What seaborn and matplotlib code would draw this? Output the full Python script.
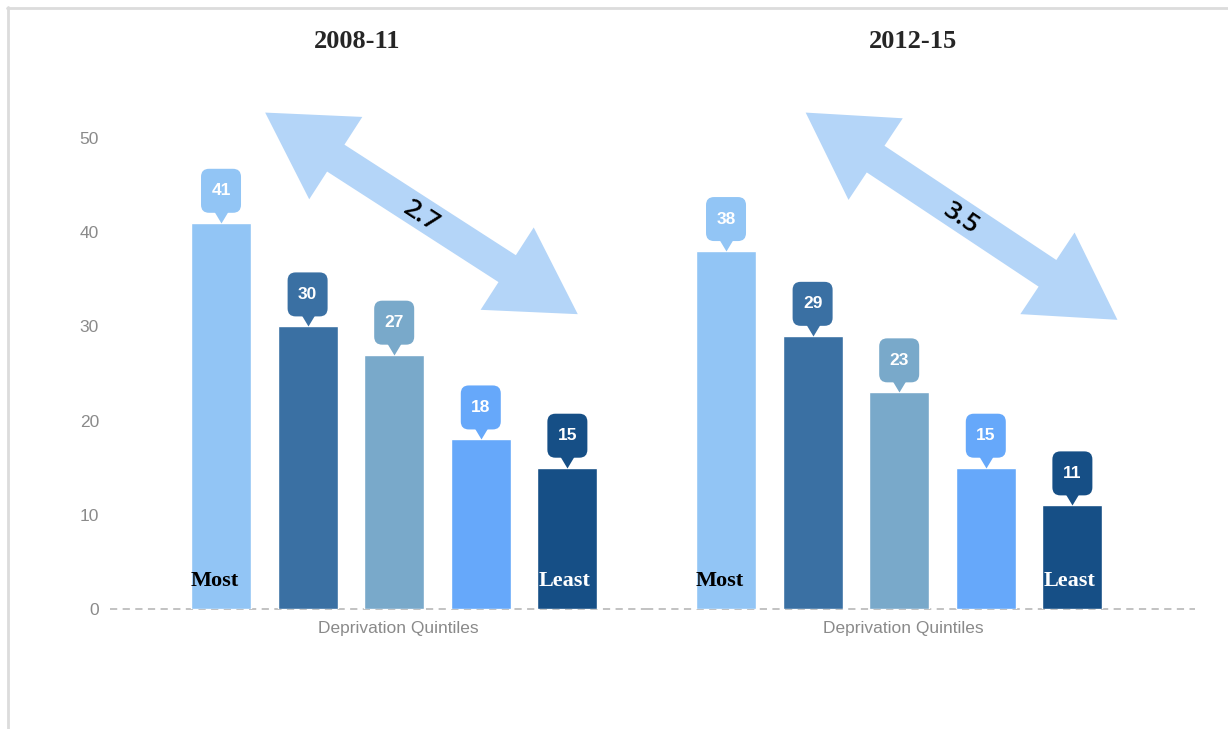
import numpy as np
import pandas as pd
import matplotlib.pyplot as plt
import matplotlib.transforms as mtransforms
import seaborn as sns
from matplotlib.patches import Polygon, FancyBboxPatch
from matplotlib.lines import Line2D

quintiles = ['Q1 Most', 'Q2', 'Q3', 'Q4', 'Q5 Least']
rates_0811 = [41, 30, 27, 18, 15]
rates_1215 = [38, 29, 23, 15, 11]
periods = ['2008-11', '2012-15']
ratios = ['2.7', '3.5']
end_labels = ['Most', 'Least']

bar_colors = ['#92c5f5', '#3a70a3', '#79a9ca', '#66a8fa', '#164f86']
arrow_color = '#b4d5f8'
grey = '#8a8a8a'

sns.set_theme(style='white')
plt.rcParams['font.family'] = ['Liberation Sans', 'DejaVu Sans']

W, H = 1228, 729
fig = plt.figure(figsize=(W / 100, H / 100), dpi=100)


def px_axes(left, right, top, bottom):
    return fig.add_axes([left / W, 1 - bottom / H, (right - left) / W, (bottom - top) / H])


ax1 = px_axes(110, 646, 81.5, 609)
ax2 = px_axes(646, 1195, 81.5, 609)
axes = [ax1, ax2]
xlims = [(-1.282, 4.908), (-0.924, 5.416)]
# arrow tips (upper-left, lower-right) in data units of each panel
arrow_tips = [((0.51, 52.7), (4.12, 31.3)), ((0.92, 52.7), (4.52, 30.7))]
title_x = [357, 913]

pointer = [(-0.6, 1.0), (0.6, 1.0), (0.0, 0.0)]

for i, (ax, vals) in enumerate(zip(axes, [rates_0811, rates_1215])):
    df = pd.DataFrame({'quintile': quintiles, 'rate': vals})
    sns.barplot(data=df, x='quintile', y='rate', hue='quintile', palette=bar_colors,
                saturation=1, width=0.693, legend=False, ax=ax)
    ax.set_xlim(*xlims[i])
    ax.set_ylim(0, 56)
    ax.set_xlabel('')
    ax.set_ylabel('')
    ax.set_xticks([])
    for s in ax.spines.values():
        s.set_visible(False)
    ax.patch.set_alpha(0)
    if i == 0:
        ax.set_yticks([0, 10, 20, 30, 40, 50])
        ax.tick_params(axis='y', length=0, pad=8, labelsize=12.5, labelcolor=grey)
    else:
        ax.set_yticks([])
    ax.axhline(0, color='#bdbdbd', lw=1.3, ls=(0, (4, 3)), clip_on=False, zorder=0)

    # callout labels: rounded box in pixel offsets above each bar top
    for j, v in enumerate(vals):
        ax.plot(j, v, marker=pointer, ms=20, color=bar_colors[j], mec='none',
                zorder=4, clip_on=False)
        at_bar = mtransforms.ScaledTranslation(j, v, ax.transData)
        box = FancyBboxPatch((-20, 10), 40, 44, boxstyle='round,pad=0,rounding_size=8',
                             fc=bar_colors[j], ec='none', transform=at_bar,
                             zorder=5, clip_on=False)
        ax.add_patch(box)
        ax.annotate(str(v), xy=(j, v), xytext=(0, 32), textcoords='offset pixels',
                    ha='center', va='center', color='white', fontsize=12.5,
                    weight='bold', zorder=6)

    ax.annotate(end_labels[0], xy=(0, 0), xytext=(-6, 28), textcoords='offset pixels',
                ha='center', va='center', fontsize=16, color='black',
                family=['Liberation Serif', 'DejaVu Serif'], weight='bold')
    ax.annotate(end_labels[1], xy=(4, 0), xytext=(-3, 28), textcoords='offset pixels',
                ha='center', va='center', fontsize=16, color='white',
                family=['Liberation Serif', 'DejaVu Serif'], weight='bold')
    ax.annotate('Deprivation Quintiles', xy=(2, 0), xytext=(4, -20),
                textcoords='offset pixels', ha='center', va='center',
                fontsize=12.5, color=grey)

    fig.text(title_x[i] / W, 1 - 42 / H, periods[i], ha='center', va='center',
             fontsize=19, weight='bold', family=['Liberation Serif', 'DejaVu Serif'])

    # double-headed arrow drawn in display space
    a = ax.transData.transform(arrow_tips[i][0])
    b = ax.transData.transform(arrow_tips[i][1])
    d = b - a
    u = d / np.hypot(*d)
    n = np.array([-u[1], u[0]])
    L, Hh, S = 84, 49, 16
    verts = [a, a + L * u + Hh * n, a + L * u + S * n, b - L * u + S * n,
             b - L * u + Hh * n, b, b - L * u - Hh * n, b - L * u - S * n,
             a + L * u - S * n, a + L * u - Hh * n]
    verts = fig.transFigure.inverted().transform(np.array(verts))
    fig.add_artist(Polygon(verts, closed=True, transform=fig.transFigure,
                           fc=arrow_color, ec='none', zorder=3))
    mid = fig.transFigure.inverted().transform((a + b) / 2 + np.array([0, -3]))
    ang = np.degrees(np.arctan2(d[1], d[0]))
    fig.text(mid[0], mid[1], ratios[i], ha='center', va='center', rotation=ang,
             rotation_mode='anchor', fontsize=19, color='black', zorder=4,
             weight='semibold', family=['Open Sans', 'DejaVu Sans'])

# light frame around the chart
fig.add_artist(Line2D([7 / W, 1], [1 - 7.5 / H, 1 - 7.5 / H], color='#dcdcdc', lw=2,
                      transform=fig.transFigure))
fig.add_artist(Line2D([7.5 / W, 7.5 / W], [0, 1 - 7 / H], color='#dcdcdc', lw=2,
                      transform=fig.transFigure))

fig.savefig('out.png', dpi=100, facecolor='white')
